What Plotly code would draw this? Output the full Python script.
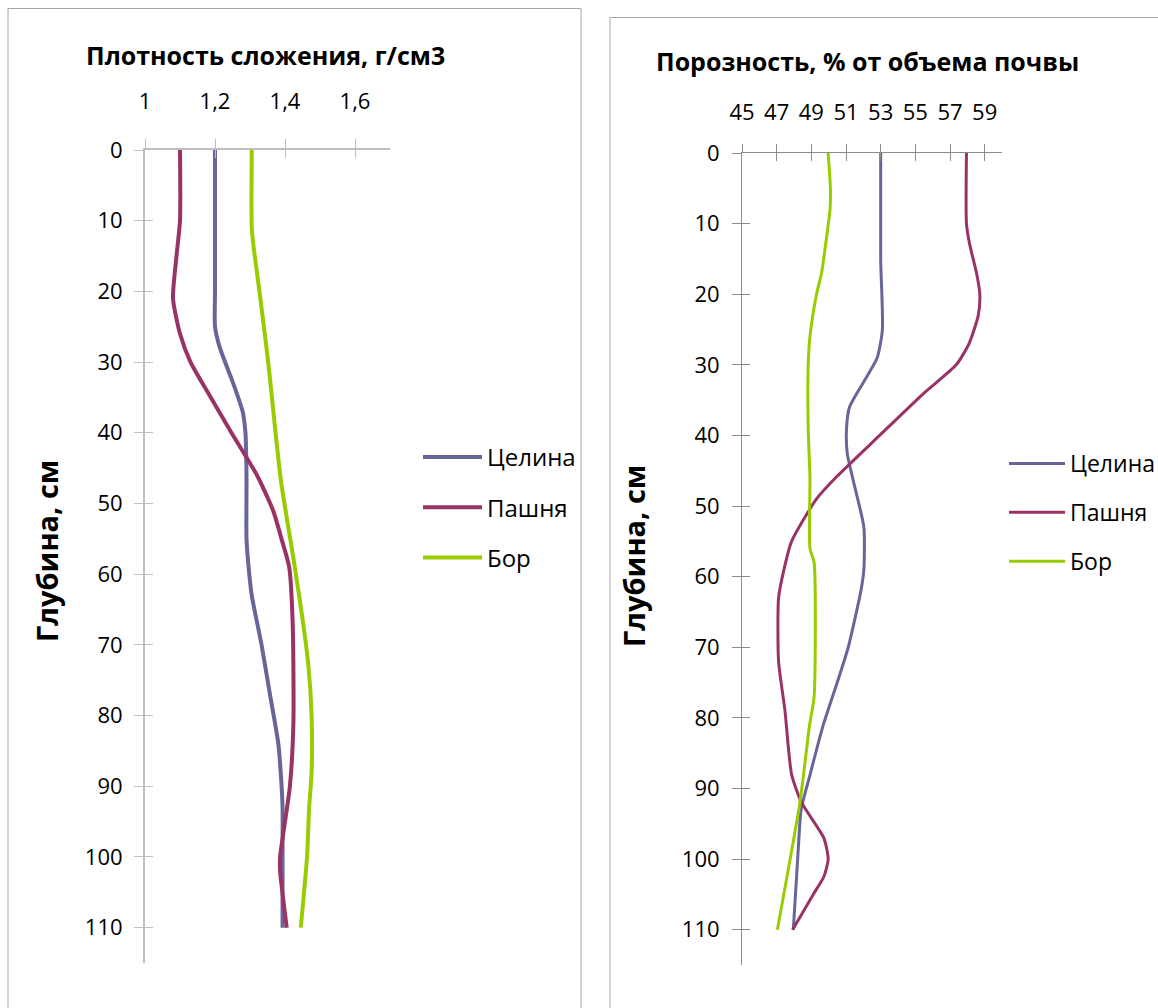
import plotly.graph_objects as go

# ---- data: soil density (g/cm3) vs depth (cm) ----
dens_depth_celina = [0, 10, 20, 25, 28, 33, 37, 40, 46, 55, 59, 63, 70, 77, 84, 89, 93, 100, 110]
dens_celina = [1.20, 1.20, 1.20, 1.20, 1.214, 1.252, 1.279, 1.287, 1.29, 1.29, 1.296, 1.305,
               1.333, 1.357, 1.381, 1.389, 1.393, 1.393, 1.393]

dens_depth_pashnya = [0, 10, 15, 21, 26, 30, 35, 40, 46, 51, 55, 59, 67, 81, 90, 95, 100, 102, 110]
dens_pashnya = [1.10, 1.10, 1.09, 1.08, 1.10, 1.13, 1.188, 1.247, 1.32, 1.366, 1.39, 1.412,
                1.422, 1.424, 1.414, 1.40, 1.386, 1.386, 1.405]

dens_depth_bor = [0, 11, 14, 20, 30, 40, 47, 59, 67, 73, 80, 88, 93, 100, 110]
dens_bor = [1.305, 1.305, 1.311, 1.327, 1.352, 1.373, 1.389, 1.428, 1.452, 1.467, 1.476,
            1.476, 1.469, 1.463, 1.445]

# ---- data: porosity (% of soil volume) vs depth (cm) ----
por_depth_celina = [0, 15, 25, 29, 32.5, 36, 39, 42.5, 46, 53, 59, 62, 70, 74.5, 81, 88, 93, 98, 110]
por_celina = [53.0, 53.0, 53.1, 52.8, 52.0, 51.2, 51.03, 51.07, 51.38, 52.03, 52.03, 51.86,
              51.13, 50.56, 49.69, 48.93, 48.41, 48.26, 47.96]

por_depth_pashnya = [0, 10, 13, 17, 20, 23, 27, 30, 34, 40, 46, 49, 55, 59, 63, 72, 79, 88,
                     92, 97, 100, 102.5, 105, 110]
por_pashnya = [57.95, 57.95, 58.14, 58.53, 58.72, 58.63, 58.1, 57.36, 55.5, 52.94, 50.4, 49.3,
               47.86, 47.42, 47.11, 47.11, 47.48, 47.86, 48.44, 49.72, 49.97, 49.72, 49.11, 47.92]

por_depth_bor = [0, 5, 8, 11, 17, 20, 26, 30, 39, 46, 56, 58, 77, 81, 92, 110]
por_bor = [49.97, 50.1, 50.08, 49.93, 49.59, 49.3, 48.92, 48.82, 48.82, 48.92, 48.92, 49.16,
           49.16, 48.9, 48.34, 47.04]

series_names = ["Целина", "Пашня", "Бор"]
colors = ["#666699", "#993366", "#99CC00"]

W, H = 1158, 1008
FONT = "Open Sans"


def px_x(v):
    return v / W


def px_y(v):
    return (H - v) / H


fig = go.Figure()

left_sets = [(dens_celina, dens_depth_celina), (dens_pashnya, dens_depth_pashnya), (dens_bor, dens_depth_bor)]
right_sets = [(por_celina, por_depth_celina), (por_pashnya, por_depth_pashnya), (por_bor, por_depth_bor)]

for i, (vals, depth) in enumerate(left_sets):
    fig.add_trace(go.Scatter(
        x=vals, y=depth, mode="lines", name=series_names[i],
        line=dict(color=colors[i], width=4, shape="spline", smoothing=0.6),
        xaxis="x", yaxis="y", legend="legend", legendgroup=f"l{i}",
    ))

for i, (vals, depth) in enumerate(right_sets):
    fig.add_trace(go.Scatter(
        x=vals, y=depth, mode="lines", name=series_names[i],
        line=dict(color=colors[i], width=3, shape="spline", smoothing=0.6),
        xaxis="x2", yaxis="y2", legend="legend2", legendgroup=f"r{i}",
    ))

# invisible carriers so the inner tick axes are drawn
fig.add_trace(go.Scatter(x=[None], y=[None], xaxis="x3", yaxis="y3", showlegend=False, hoverinfo="skip"))
fig.add_trace(go.Scatter(x=[None], y=[None], xaxis="x4", yaxis="y4", showlegend=False, hoverinfo="skip"))

tickfont = dict(family=FONT, size=22, color="#000000")
left_axis_color = "#BFBFBF"
right_axis_color = "#8C8C8C"

L_XDOM = [px_x(145), px_x(390)]
L_YDOM = [px_y(963), px_y(150)]
R_XDOM = [px_x(742), px_x(1002)]
R_YDOM = [px_y(965), px_y(153)]

common_x = dict(showgrid=False, zeroline=False, side="top", automargin=False)
common_y = dict(showgrid=False, zeroline=False, side="left", automargin=False)

fig.update_layout(
    template="none",
    width=W, height=H,
    margin=dict(l=0, r=0, t=0, b=0, pad=0, autoexpand=False),
    paper_bgcolor="white", plot_bgcolor="rgba(0,0,0,0)",
    separators=", ",
    font=dict(family=FONT, color="#000000"),
    # left panel: density
    xaxis=dict(common_x, domain=L_XDOM, anchor="y", range=[1, 1.7], tick0=1, dtick=0.2,
               showline=True, linecolor=left_axis_color, linewidth=1.5,
               ticks="outside", ticklen=9, tickcolor=left_axis_color, tickwidth=1,
               tickfont=tickfont, ticklabelstandoff=21),
    yaxis=dict(common_y, domain=L_YDOM, anchor="x", range=[115, 0], tick0=0, dtick=10,
               showline=True, linecolor=left_axis_color, linewidth=2,
               ticks="outside", ticklen=9, tickcolor=left_axis_color, tickwidth=1,
               tickfont=tickfont, ticklabelstandoff=7),
    xaxis3=dict(common_x, domain=L_XDOM, anchor="y3", range=[1, 1.7], tick0=1, dtick=0.2,
                showline=False, ticks="inside", ticklen=8, tickcolor=left_axis_color,
                tickwidth=1, showticklabels=False),
    yaxis3=dict(common_y, domain=L_YDOM, anchor="x3", range=[115, 0], tick0=0, dtick=10,
                showline=False, ticks="inside", ticklen=8, tickcolor=left_axis_color,
                tickwidth=1, showticklabels=False),
    # right panel: porosity
    xaxis2=dict(common_x, domain=R_XDOM, anchor="y2", range=[45, 60], tick0=45, dtick=2,
                showline=True, linecolor=right_axis_color, linewidth=1,
                ticks="outside", ticklen=8, tickcolor=right_axis_color, tickwidth=1,
                tickfont=tickfont, ticklabelstandoff=15),
    yaxis2=dict(common_y, domain=R_YDOM, anchor="x2", range=[115, 0], tick0=0, dtick=10,
                showline=True, linecolor=right_axis_color, linewidth=1,
                ticks="outside", ticklen=9, tickcolor=right_axis_color, tickwidth=1,
                tickfont=tickfont, ticklabelstandoff=8),
    xaxis4=dict(common_x, domain=R_XDOM, anchor="y4", range=[45, 60], tick0=45, dtick=2,
                showline=False, ticks="inside", ticklen=8, tickcolor=right_axis_color,
                tickwidth=1, showticklabels=False),
    yaxis4=dict(common_y, domain=R_YDOM, anchor="x4", range=[115, 0], tick0=0, dtick=10,
                showline=False, ticks="inside", ticklen=8, tickcolor=right_axis_color,
                tickwidth=1, showticklabels=False),
    legend=dict(x=px_x(418), y=px_y(435), xanchor="left", yanchor="top",
                font=dict(family=FONT, size=24, color="#000000"),
                bgcolor="rgba(0,0,0,0)", borderwidth=0, tracegroupgap=16, itemwidth=59),
    legend2=dict(x=px_x(1004), y=px_y(442), xanchor="left", yanchor="top",
                 font=dict(family=FONT, size=23, color="#000000"),
                 bgcolor="rgba(0,0,0,0)", borderwidth=0, tracegroupgap=16, itemwidth=56),
    showlegend=True,
    hovermode=False,
)

# panel frames
fig.add_shape(type="rect", xref="paper", yref="paper",
              x0=px_x(8), x1=px_x(581), y0=-0.02, y1=px_y(8.5),
              line=dict(color="#A6A6A6", width=1), fillcolor="rgba(0,0,0,0)", layer="below")
fig.add_shape(type="rect", xref="paper", yref="paper",
              x0=px_x(610), x1=1.02, y0=-0.02, y1=px_y(17.5),
              line=dict(color="#A6A6A6", width=1), fillcolor="rgba(0,0,0,0)", layer="below")

# chart titles
fig.add_annotation(text="<b>Плотность сложения, г/см3</b>", xref="paper", yref="paper",
                   x=px_x(265), y=px_y(55), xanchor="center", yanchor="middle", showarrow=False,
                   font=dict(family=FONT, size=25, color="#000000"))
fig.add_annotation(text="<b>Порозность, % от объема почвы</b>", xref="paper", yref="paper",
                   x=px_x(867), y=px_y(61), xanchor="center", yanchor="middle", showarrow=False,
                   font=dict(family=FONT, size=25, color="#000000"))

# depth axis titles
fig.add_annotation(text="<b>Глубина, см</b>", xref="paper", yref="paper",
                   x=px_x(46), y=px_y(551), xanchor="center", yanchor="middle", showarrow=False,
                   textangle=-90, font=dict(family=FONT, size=29, color="#000000"))
fig.add_annotation(text="<b>Глубина, см</b>", xref="paper", yref="paper",
                   x=px_x(633), y=px_y(556), xanchor="center", yanchor="middle", showarrow=False,
                   textangle=-90, font=dict(family=FONT, size=29, color="#000000"))

fig.write_html(
    "out.html",
    post_script="document.body.style.margin='0';document.documentElement.style.overflow='hidden';",
)
